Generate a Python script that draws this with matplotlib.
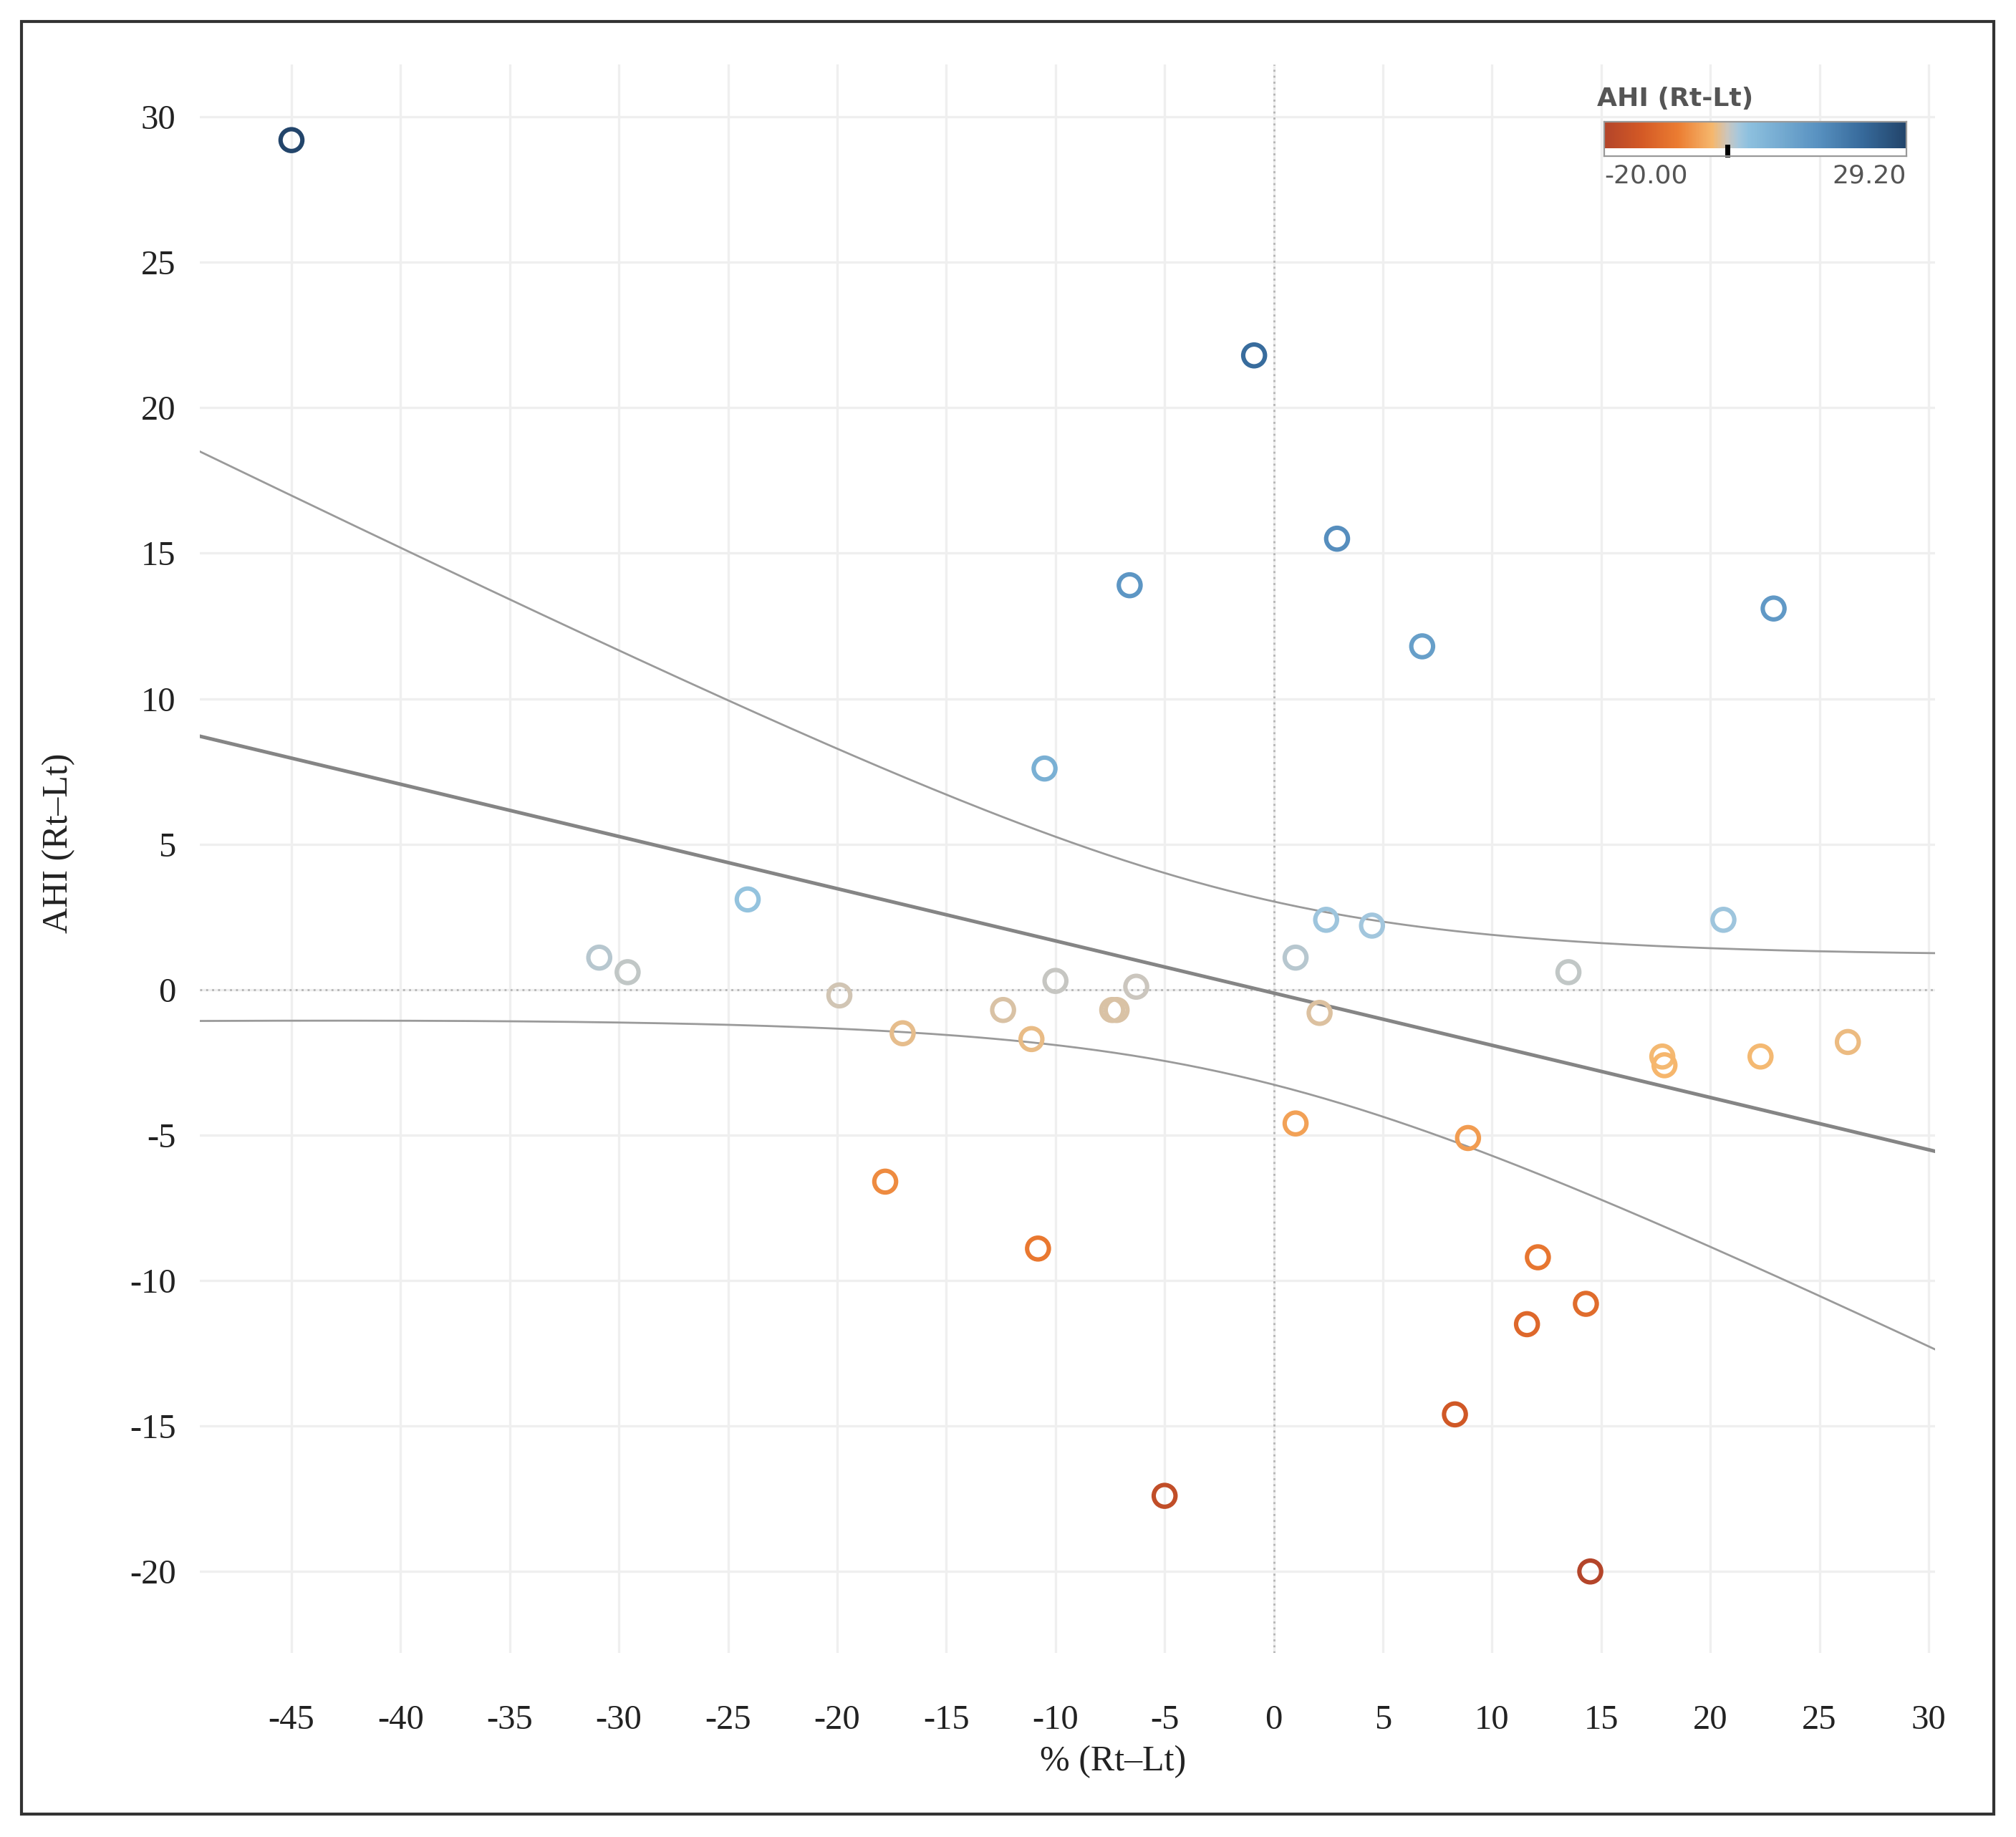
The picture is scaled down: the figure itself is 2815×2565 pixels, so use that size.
import matplotlib.pyplot as plt
from matplotlib.colors import LinearSegmentedColormap, TwoSlopeNorm
from matplotlib.patches import Rectangle
import numpy as np

plt.rcParams['axes.unicode_minus'] = False

# dati: % (Rt-Lt) e AHI (Rt-Lt)
pct = [-45.0, -0.9, 2.9, -6.6, 22.9, 6.8, -10.5, -24.1, 2.4, 4.5, 20.6,
       -30.9, -29.6, 1.0, 13.5, -10.0, -6.3, -19.9, -12.4, -7.4, -7.2,
       -17.0, -11.1, 2.1, 17.8, 17.9, 22.3, 26.3, 1.0, 8.9, -17.8,
       -10.8, 12.1, 14.3, 11.6, 8.3, -5.0, 14.5]
ahi = [29.2, 21.8, 15.5, 13.9, 13.1, 11.8, 7.6, 3.1, 2.4, 2.2, 2.4,
       1.1, 0.6, 1.1, 0.6, 0.3, 0.1, -0.2, -0.7, -0.7, -0.7,
       -1.5, -1.7, -0.8, -2.3, -2.6, -2.3, -1.8, -4.6, -5.1, -6.6,
       -8.9, -9.2, -10.8, -11.5, -14.6, -17.4, -20.0]

xticks = [-45, -40, -35, -30, -25, -20, -15, -10, -5, 0, 5, 10, 15, 20, 25, 30]
yticks = [-20, -15, -10, -5, 0, 5, 10, 15, 20, 25, 30]

# colori tipo Tableau orange-blue diverging
cmap = LinearSegmentedColormap.from_list('ob', [
    (0.0, '#b4452a'), (0.15, '#d45a26'), (0.3, '#ec7d32'),
    (0.44, '#f6b86e'), (0.5, '#cdc6bc'), (0.53, '#a8c8dc'),
    (0.56, '#8ec1df'), (0.75, '#5a93c2'), (0.88, '#376a9b'),
    (1.0, '#23456b')])
norm = TwoSlopeNorm(vmin=-20, vcenter=0, vmax=29.2)

fig = plt.figure(figsize=(14.075, 12.825), dpi=200)
ax = fig.add_axes([0.0991, 0.1002, 0.8608, 0.8647])

x = np.array(pct)
y = np.array(ahi)

# retta di regressione + banda di confidenza (95%)
n = len(x)
b, a = np.polyfit(x, y, 1)
xs = np.linspace(-49.2, 30.3, 200)
yfit = a + b * xs
res = y - (a + b * x)
s = np.sqrt(np.sum(res ** 2) / (n - 2))
sxx = np.sum((x - x.mean()) ** 2)
se = s * np.sqrt(1.0 / n + (xs - x.mean()) ** 2 / sxx)
t = 2.028
ax.plot(xs, yfit, color='#858585', lw=1.8, zorder=3)
ax.plot(xs, yfit + t * se, color='#9a9a9a', lw=1.0, zorder=3)
ax.plot(xs, yfit - t * se, color='#9a9a9a', lw=1.0, zorder=3)

ax.scatter(x, y, s=120, facecolors='none', edgecolors=cmap(norm(y)),
           linewidths=2.2, zorder=4)

ax.axhline(0, color='#b5b5b5', lw=1.0, ls=(0, (1, 2)), zorder=2)
ax.axvline(0, color='#b5b5b5', lw=1.0, ls=(0, (1, 2)), zorder=2)

ax.set_xlim(-49.2, 30.3)
ax.set_ylim(-22.8, 31.8)
ax.set_xticks(xticks)
ax.set_yticks(yticks)
ax.grid(True, color='#efefef', lw=1.2, zorder=0)
ax.set_axisbelow(True)
for sp in ax.spines.values():
    sp.set_visible(False)
ax.tick_params(length=0, labelsize=17.5, colors='#222222')
ax.tick_params(axis='x', pad=26)
ax.tick_params(axis='y', pad=12)
for lab in ax.get_xticklabels() + ax.get_yticklabels():
    lab.set_family('Liberation Serif')

fig.text(0.029, 0.541, 'AHI (Rt\u2013Lt)', rotation=90, fontsize=18,
         family='Liberation Serif', ha='center', va='center', color='#222222')
fig.text(0.552, 0.041, '% (Rt\u2013Lt)', fontsize=18,
         family='Liberation Serif', ha='center', va='center', color='#222222')

# legenda colore in alto a destra
cax = fig.add_axes([2240 / 2815, 1 - 218 / 2565, 422 / 2815, 48 / 2565])
grad = np.linspace(-20, 29.2, 400).reshape(1, -1)
cax.imshow(grad, aspect='auto', cmap=cmap, norm=norm,
           extent=[-20, 29.2, 0, 1])
cax.set_xlim(-20, 29.2)
cax.set_xticks([])
cax.set_yticks([])
for sp in cax.spines.values():
    sp.set_color('#999999')
    sp.set_linewidth(0.8)
cax.plot([0, 0], [-0.25, 0.05], color='black', lw=2.5, clip_on=False)
fig.text(2230 / 2815, 1 - 138 / 2565, 'AHI (Rt-Lt)', fontsize=13,
         fontweight='bold', family='DejaVu Sans', color='#555555',
         ha='left', va='center')
fig.text(2240 / 2815, 1 - 245 / 2565, '-20.00', fontsize=13,
         family='DejaVu Sans', color='#555555', ha='left', va='center')
fig.text(2662 / 2815, 1 - 245 / 2565, '29.20', fontsize=13,
         family='DejaVu Sans', color='#555555', ha='right', va='center')

# cornice esterna
fig.patches.append(Rectangle((30 / 2815, 1 - 2533 / 2565),
                             (2784 - 30) / 2815, (2533 - 30) / 2565,
                             transform=fig.transFigure, fill=False,
                             edgecolor='#333333', lw=1.5))

fig.savefig('out.png', dpi=200)
